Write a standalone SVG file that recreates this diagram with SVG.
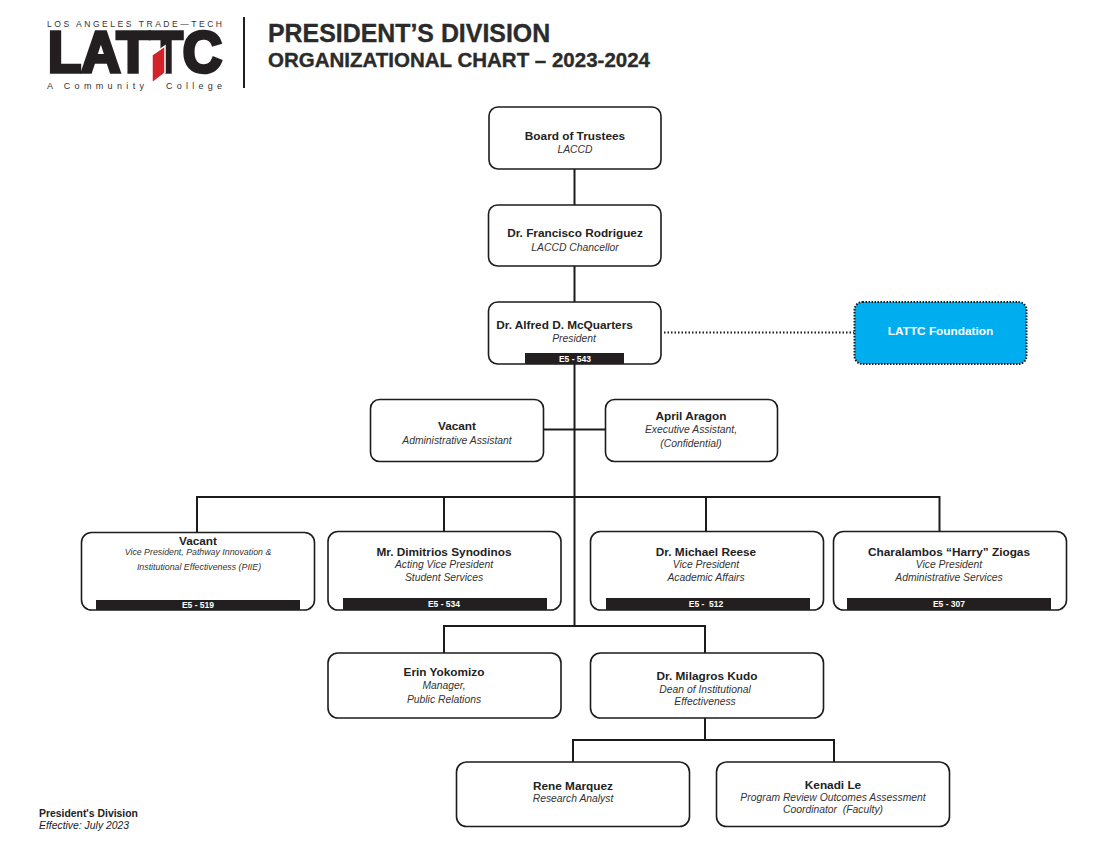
<svg xmlns="http://www.w3.org/2000/svg" width="1100" height="843" viewBox="0 0 1100 843">
<style>
text{font-family:"Liberation Sans",Arial,sans-serif;text-anchor:middle;fill:#222}
.b{fill:#fff;stroke:#1d1b1c;stroke-width:1.6}
.n{font-size:11.8px;font-weight:bold}
.r{font-size:10.35px;font-style:italic;fill:#333}
.s{font-size:8.8px;font-style:italic;fill:#333}
.bar{fill:#231f20}
.c{font-size:8.5px;font-weight:bold;fill:#fff}
.l{fill:none;stroke:#1d1b1c;stroke-width:2}
.t{text-anchor:start;fill:#333}
.h{font-weight:bold;text-anchor:start;fill:#2b2b2b;stroke:#2b2b2b;stroke-width:.35}
</style>
<rect width="1100" height="843" fill="#fff"/>
<g id="logo">
<text class="t" x="47" y="27" style="font-size:8.500px" textLength="175">LOS ANGELES TRADE—TECH</text>
<text class="t" x="48" y="72" style="font-size:57px;font-weight:bold;fill:#231f20;stroke:#231f20;stroke-width:3.600" textLength="174" lengthAdjust="spacingAndGlyphs">LATTC</text>
<polygon points="152,55 165,46 165,73 152,83" fill="#d2232a" stroke="#fff" stroke-width="1.500"/>
<text class="t" x="47" y="89" style="font-size:9px" textLength="97">A Community</text>
<text class="t" x="166" y="89" style="font-size:9px" textLength="56">College</text>
<rect x="243" y="17" width="2" height="71" fill="#231f20"/>
</g>
<g id="title">
<text class="h" x="268" y="42" style="font-size:24.9px">PRESIDENT’S DIVISION</text>
<text class="h" x="268" y="67" style="font-size:20.5px">ORGANIZATIONAL CHART – 2023-2024</text>
</g>
<g id="connectors">
<path class="l" d="M574.500 169V205M574.500 266V302M574.500 364V626M544 429.500H605M197 534V497H939.500V532M444 497V532M706 497V532M444 653V626H705V653M705 718V740M573 762V740H834V762"/>
<path d="M664 332.500H854" fill="none" stroke="#1d1b1c" stroke-width="2" stroke-dasharray="1.500 2"/>
</g>
<g id="board"><rect class="b" x="489" y="107" width="172" height="62" rx="9"/><text class="n" x="575" y="140">Board of Trustees</text><text class="r" x="575" y="153">LACCD</text></g>
<g id="chancellor"><rect class="b" x="488.500" y="205" width="172.500" height="61" rx="9"/><text class="n" x="575" y="237">Dr. Francisco Rodriguez</text><text class="r" x="575" y="251">LACCD Chancellor</text></g>
<g id="president"><rect class="b" x="488.500" y="302" width="172.500" height="62" rx="9"/><rect class="bar" x="525" y="353" width="99" height="11"/><text class="n" x="564.500" y="329">Dr. Alfred D. McQuarters</text><text class="r" x="574" y="342">President</text><text class="c" x="575" y="362">E5 - 543</text></g>
<g id="foundation"><rect x="854.500" y="302" width="172" height="62" rx="8" fill="#00aeef" stroke="#1d1b1c" stroke-width="2" stroke-dasharray="1.500 1.500"/><text x="940.500" y="335" style="font-size:11.800px;font-weight:bold;fill:#fff">LATTC Foundation</text></g>
<g id="admin-assistant"><rect class="b" x="370.500" y="399.500" width="173" height="62" rx="9"/><text class="n" x="457" y="430">Vacant</text><text class="r" x="457" y="444">Administrative Assistant</text></g>
<g id="exec-assistant"><rect class="b" x="605.500" y="399.500" width="172" height="62" rx="9"/><text class="n" x="691" y="420">April Aragon</text><text class="r" x="691" y="433">Executive Assistant,</text><text class="r" x="691" y="447">(Confidential)</text></g>
<g id="vp-piie"><rect class="b" x="81.500" y="532.500" width="233" height="77.500" rx="10"/><rect class="bar" x="96" y="600" width="204" height="10"/><text class="n" x="198" y="545">Vacant</text><text class="s" x="198" y="555">Vice President, Pathway Innovation &amp;</text><text class="s" x="199" y="570">Institutional Effectiveness (PIIE)</text><text class="c" x="198" y="608">E5 - 519</text></g>
<g id="vp-student"><rect class="b" x="328" y="531.500" width="233" height="78.500" rx="10"/><rect class="bar" x="343" y="598" width="204" height="12"/><text class="n" x="444" y="556">Mr. Dimitrios Synodinos</text><text class="r" x="444" y="568">Acting Vice President</text><text class="r" x="444" y="581">Student Services</text><text class="c" x="444" y="607">E5 - 534</text></g>
<g id="vp-academic"><rect class="b" x="590.500" y="531.500" width="233" height="78.500" rx="10"/><rect class="bar" x="606" y="598" width="204" height="12"/><text class="n" x="706" y="556">Dr. Michael Reese</text><text class="r" x="706" y="568">Vice President</text><text class="r" x="706" y="581">Academic Affairs</text><text class="c" x="706" y="607" xml:space="preserve">E5 -  512</text></g>
<g id="vp-admin"><rect class="b" x="833.500" y="531.500" width="233" height="78.500" rx="10"/><rect class="bar" x="847" y="598" width="204" height="12"/><text class="n" x="949" y="556">Charalambos “Harry” Ziogas</text><text class="r" x="949" y="568">Vice President</text><text class="r" x="949" y="581">Administrative Services</text><text class="c" x="949" y="607">E5 - 307</text></g>
<g id="pr"><rect class="b" x="328" y="653" width="233" height="65" rx="10"/><text class="n" x="444" y="676">Erin Yokomizo</text><text class="r" x="444" y="689">Manager,</text><text class="r" x="444" y="703">Public Relations</text></g>
<g id="dean"><rect class="b" x="590.500" y="653" width="233" height="65" rx="10"/><text class="n" x="707" y="680">Dr. Milagros Kudo</text><text class="r" x="705" y="693">Dean of Institutional</text><text class="r" x="705" y="705">Effectiveness</text></g>
<g id="analyst"><rect class="b" x="456.500" y="762" width="233" height="64.500" rx="10"/><text class="n" x="573" y="790">Rene Marquez</text><text class="r" x="573" y="802">Research Analyst</text></g>
<g id="coordinator"><rect class="b" x="716.500" y="762" width="233" height="64.500" rx="10"/><text class="n" x="833" y="789">Kenadi Le</text><text class="r" x="833" y="801">Program Review Outcomes Assessment</text><text class="r" x="833" y="813" xml:space="preserve">Coordinator  (Faculty)</text></g>
<g id="footer"><text x="39" y="817" style="font-size:10.400px;font-weight:bold;text-anchor:start">President's Division</text><text x="39" y="829" style="font-size:10.400px;font-style:italic;text-anchor:start">Effective: July 2023</text></g>
</svg>
